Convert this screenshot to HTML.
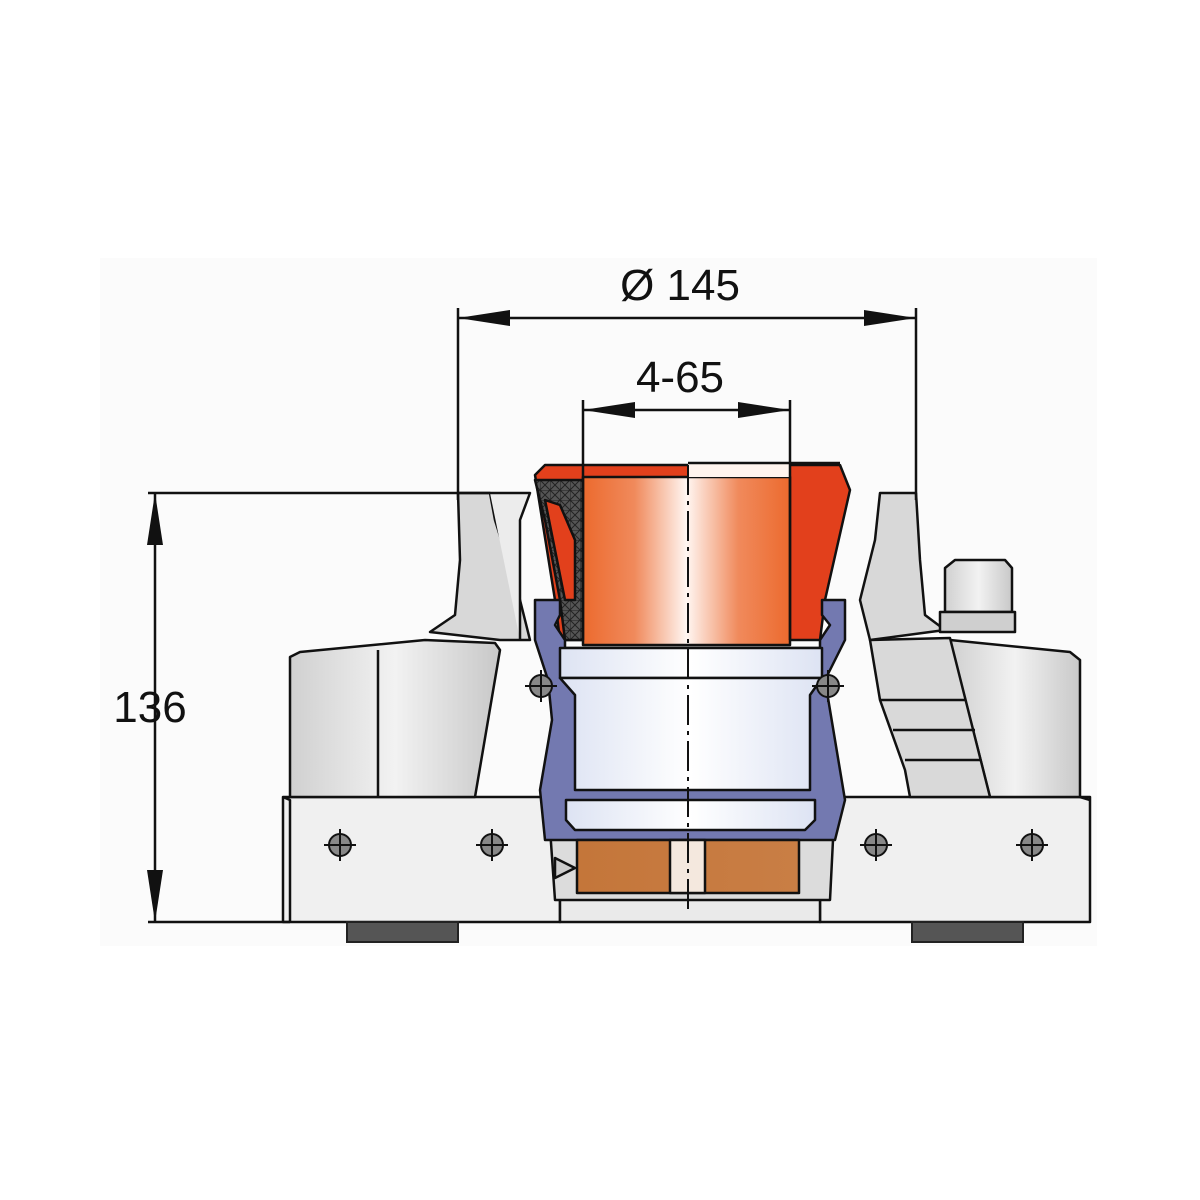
<!DOCTYPE html>
<html><head><meta charset="utf-8"><style>html,body{margin:0;padding:0;background:#fff}svg{display:block}</style></head>
<body>
<svg width="1200" height="1200" viewBox="0 0 1200 1200" xmlns="http://www.w3.org/2000/svg">
<defs>
<linearGradient id="org" x1="0" x2="1" y1="0" y2="0">
<stop offset="0" stop-color="#ec6a2e"/><stop offset="0.25" stop-color="#f08a5c"/><stop offset="0.5" stop-color="#fff6f2"/><stop offset="0.75" stop-color="#f08a5c"/><stop offset="1" stop-color="#ec6a2e"/></linearGradient>
<linearGradient id="blu" x1="0" x2="1"><stop offset="0" stop-color="#dde3f3"/><stop offset="0.5" stop-color="#ffffff"/><stop offset="1" stop-color="#dde3f3"/></linearGradient>
<linearGradient id="gry" x1="0" x2="1"><stop offset="0" stop-color="#d0d0d0"/><stop offset="0.5" stop-color="#f2f2f2"/><stop offset="1" stop-color="#c8c8c8"/></linearGradient>
<linearGradient id="brn" x1="0" x2="1"><stop offset="0" stop-color="#c4763a"/><stop offset="1" stop-color="#c97e45"/></linearGradient>
<pattern id="hatch" width="10" height="10" patternUnits="userSpaceOnUse"><rect width="10" height="10" fill="#555"/><path d="M0 0L10 10M0 10L10 0M0 0H10M0 0V10" stroke="#222" stroke-width="1"/></pattern>
<g id="scr"><circle r="11" fill="#888" stroke="#111" stroke-width="2"/><path d="M-16 0H16M0 -16V16" stroke="#111" stroke-width="2"/></g>
</defs>
<rect x="100" y="258" width="997" height="688" fill="#fbfbfb"/>
<g stroke="#111" stroke-width="2.5" stroke-linejoin="round">
<!-- left base -->
<path d="M283 797 H560 V922 H283 Z" fill="#f0f0f0"/>
<path d="M283 797 L290 800 V922" fill="none"/>
<!-- left box -->
<path d="M290 657 L300 652 L425 640 L495 643 L500 650 L475 797 L290 797 Z" fill="url(#gry)"/>
<line x1="378" y1="650" x2="378" y2="797"/>
<!-- left post -->
<path d="M458 493 H490 L495 520 L520 600 L530 640 H500 L430 632 L455 615 L460 560 Z" fill="#d8d8d8"/>
<path d="M490 493 H530 L520 520 V640" fill="#ececec"/>
<!-- right base -->
<path d="M820 797 H1090 V922 H820 Z" fill="#f0f0f0"/>
<path d="M1080 797 L1090 800" fill="none"/>
<!-- right box -->
<path d="M950 640 L1070 652 L1080 660 V797 H990 L950 640 Z" fill="url(#gry)"/>
<path d="M870 640 L950 638 L990 797 H910 L905 770 L880 700 Z" fill="#d9d9d9"/>
<path d="M880 700 H965 M893 730 H975 M905 760 H980" fill="none"/>
<!-- right post -->
<path d="M880 493 H916 L920 560 L925 615 L945 630 L870 640 L860 600 L875 540 Z" fill="#d8d8d8"/>
<!-- nut -->
<path d="M945 568 L955 560 H1005 L1012 568 V612 H945 Z" fill="url(#gry)"/>
<path d="M940 612 H1015 V632 H940 Z" fill="#cfcfcf"/>
<!-- center base / bottom -->
<path d="M560 895 H820 V922 H560 Z" fill="#eaeaea"/>
<path d="M548 800 L835 800 L830 900 L555 900 Z" fill="#dcdcdc"/>
<!-- red cone -->
<path d="M535 475 L545 465 H840 L850 490 L825 600 L820 640 H560 L555 600 Z" fill="#e2401c"/>
<path d="M535 480 L583 480 V640 H565 L560 600 L545 520 Z" fill="url(#hatch)"/>
<path d="M545 500 L565 600 H575 V540 L560 505 Z" fill="#e2401c"/>
<!-- orange sleeve -->
<rect x="583" y="477" width="207" height="168" fill="url(#org)"/>
<path d="M688 463 H790 V477 H688 Z" fill="#fff4ee" stroke="none"/>
<line x1="688" y1="463" x2="840" y2="463"/>
<!-- blue housing -->
<path d="M535 600 H560 V615 L555 625 L565 640 V648 H820 V640 L830 625 L822 615 V600 H845 V640 L825 680 L835 740 L845 800 L835 840 H545 L540 790 L552 720 L548 680 L535 640 Z" fill="#7379b0"/>
<rect x="560" y="648" width="262" height="30" fill="url(#blu)"/>
<path d="M560 678 H822 L810 695 V790 H575 V695 Z" fill="url(#blu)"/>
<path d="M566 800 H815 V820 L805 830 H575 L566 820 Z" fill="url(#blu)"/>
<!-- brown part -->
<rect x="577" y="840" width="222" height="53" fill="url(#brn)"/>
<rect x="670" y="840" width="35" height="53" fill="#f4e8de"/>
<path d="M555 858 L575 868 L555 878 Z" fill="#ccc"/>
</g>
<!-- pads -->
<rect x="347" y="922" width="111" height="20" fill="#555" stroke="#222" stroke-width="2"/>
<rect x="912" y="922" width="111" height="20" fill="#555" stroke="#222" stroke-width="2"/>
<!-- screws -->
<use href="#scr" x="340" y="845"/><use href="#scr" x="492" y="845"/>
<use href="#scr" x="876" y="845"/><use href="#scr" x="1032" y="845"/>
<use href="#scr" x="541" y="686"/><use href="#scr" x="828" y="686"/>
<!-- centerline -->
<line x1="688" y1="465" x2="688" y2="912" stroke="#111" stroke-width="2" stroke-dasharray="30 6 4 6"/>
<!-- dimensions -->
<g stroke="#111" stroke-width="2.5" fill="none">
<line x1="458" y1="308" x2="458" y2="500"/><line x1="916" y1="308" x2="916" y2="500"/>
<line x1="458" y1="318" x2="916" y2="318"/>
<line x1="583" y1="400" x2="583" y2="640"/><line x1="790" y1="400" x2="790" y2="640"/>
<line x1="583" y1="410" x2="790" y2="410"/>
<line x1="148" y1="493" x2="490" y2="493"/><line x1="148" y1="922" x2="290" y2="922"/>
<line x1="155" y1="493" x2="155" y2="922"/>
</g>
<g fill="#111">
<path d="M458 318 L510 310 V326 Z"/><path d="M916 318 L864 310 V326 Z"/>
<path d="M583 410 L635 402 V418 Z"/><path d="M790 410 L738 402 V418 Z"/>
<path d="M155 493 L147 545 H163 Z"/><path d="M155 922 L147 870 H163 Z"/>
</g>
<g font-family="Liberation Sans, sans-serif" font-size="44" fill="#111" text-anchor="middle">
<text x="680" y="300">Ø 145</text>
<text x="680" y="392">4-65</text>
<text x="150" y="722">136</text>
</g>
</svg>
</body></html>
